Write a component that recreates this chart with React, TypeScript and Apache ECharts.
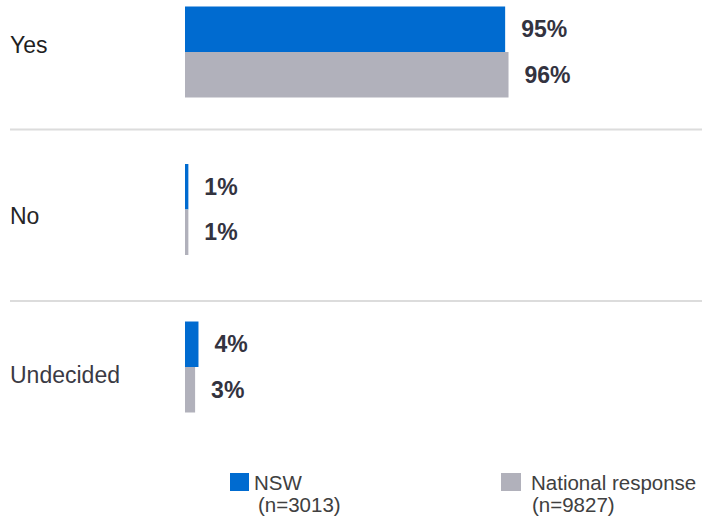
import React, { useEffect, useRef } from "react";
import * as echarts from "echarts";

const categories = ["Yes", "No", "Undecided"];
const nswValues = [95, 1, 4];
const nationalValues = [96, 1, 3];
const seriesNames = ["NSW", "National response"];
const sampleSizes = ["(n=3013)", "(n=9827)"];

const FONT = '"Liberation Sans", Arial, Helvetica, sans-serif';

export default function App() {
  const ref = useRef<HTMLDivElement>(null);

  useEffect(() => {
    document.body.style.margin = "0";
    if (!ref.current) return;
    const chart = echarts.init(ref.current, null, { renderer: "svg" });
    const labelRich: Record<string, string> = { Yes: "up", No: "down", Undecided: "down2" };
    const tokenBase = { fontFamily: FONT, fontSize: 20.5, color: "#404040", lineHeight: 22, height: 22 };
    const makeLegend = (idx: number, left: number, firstPad: number, secondPad: number) => ({
      data: [seriesNames[idx]],
      left,
      top: 449,
      itemWidth: idx === 0 ? 19 : 20,
      itemHeight: 18,
      padding: 0,
      icon: "rect",
      formatter: (name: string) => `{s| }\n{a|${name}}\n{b|${sampleSizes[seriesNames.indexOf(name)]}}`,
      textStyle: {
        fontFamily: FONT,
        fontSize: 20.5,
        color: "#404040",
        rich: {
          s: { fontSize: 10, height: 22, lineHeight: 22 },
          a: { ...tokenBase, padding: [0, 0, 0, firstPad] },
          b: { ...tokenBase, padding: [0, 0, 0, secondPad] },
        },
      },
    });
    chart.setOption({
      animation: false,
      backgroundColor: "#ffffff",
      grid: { left: 185, right: 180, top: 52, bottom: 152, containLabel: false },
      xAxis: {
        type: "value",
        min: 0,
        max: 100,
        show: false,
      },
      yAxis: {
        type: "category",
        data: categories,
        inverse: true,
        boundaryGap: false,
        axisLine: { show: false },
        axisTick: { show: false },
        splitLine: { show: false },
        axisLabel: {
          align: "left",
          margin: 175,
          fontFamily: FONT,
          fontSize: 23,
          color: "#262626",
          formatter: (v: string) => `{${labelRich[v]}|${v}}`,
          rich: {
            up: { fontFamily: FONT, fontSize: 23, color: "#1f1f1f", padding: [0, 0, 14, 0] },
            down: { fontFamily: FONT, fontSize: 23, color: "#262626", padding: [12, 0, 0, 0] },
            down2: { fontFamily: FONT, fontSize: 23, color: "#3a3a44", padding: [16, 0, 0, 0] },
          },
        },
      },
      legend: [makeLegend(0, 230, 0, 4), makeLegend(1, 501, 5, 6)],
      graphic: [
        { type: "line", shape: { x1: 10, y1: 129.5, x2: 702, y2: 129.5 }, style: { stroke: "#dcdcdc", lineWidth: 2 } },
        { type: "line", shape: { x1: 10, y1: 301, x2: 702, y2: 301 }, style: { stroke: "#dcdcdc", lineWidth: 2 } },
      ],
      series: [
        {
          name: seriesNames[0],
          type: "bar",
          data: nswValues,
          barWidth: 45.5,
          barGap: "0%",
          itemStyle: { color: "#006BD0" },
          label: {
            show: true,
            position: "right",
            distance: 16,
            formatter: "{c}%",
            fontFamily: FONT,
            fontSize: 23,
            fontWeight: "bold",
            color: "#33333f",
          },
        },
        {
          name: seriesNames[1],
          type: "bar",
          data: nationalValues,
          barWidth: 45.5,
          barGap: "0%",
          itemStyle: { color: "#B1B1BB" },
          label: {
            show: true,
            position: "right",
            distance: 16,
            formatter: "{c}%",
            fontFamily: FONT,
            fontSize: 23,
            fontWeight: "bold",
            color: "#33333f",
          },
        },
      ],
    });
    return () => chart.dispose();
  }, []);

  return <div ref={ref} style={{ width: 702, height: 519 }} />;
}
